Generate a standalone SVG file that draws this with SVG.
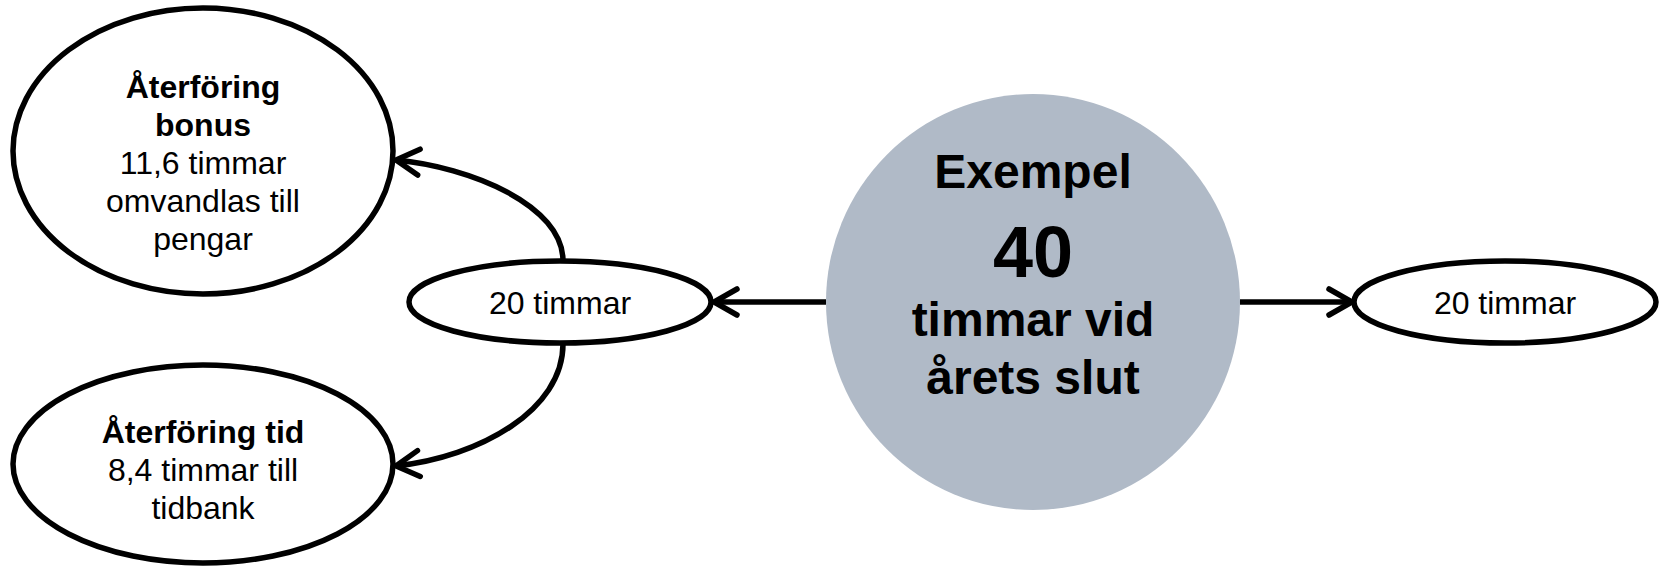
<svg xmlns="http://www.w3.org/2000/svg" width="1659" height="566" viewBox="0 0 1659 566">
<style>
.node{fill:#ffffff;stroke:#000000;stroke-width:5.5}
.hub{fill:#B0BAC7;stroke:none}
.t{font-family:"Liberation Sans",Arial,sans-serif;font-size:32px;fill:#000000;text-anchor:middle}
.b{font-weight:bold}
.big{font-family:"Liberation Sans",Arial,sans-serif;font-weight:bold;fill:#000000;text-anchor:middle}
.edge{fill:none;stroke:#000000;stroke-width:5.5;marker-end:url(#arr)}
</style>
<defs>
<marker id="arr" markerUnits="userSpaceOnUse" markerWidth="40" markerHeight="40" refX="26" refY="16" orient="auto" style="overflow:visible">
<path d="M 3 3 L 26 16 L 3 29" fill="none" stroke="#000000" stroke-width="5.5" stroke-linecap="round" stroke-linejoin="miter"/>
</marker>
</defs>
<g id="connectors">
<path class="edge" d="M 826 302 L 714 302"/>
<path class="edge" d="M 1240 302 L 1352 302"/>
<path class="edge" d="M 563 261 C 563 205 470 167 396 160"/>
<path class="edge" d="M 563 344 C 563 410 480 457 396 466"/>
</g>
<g id="n-bonus">
<ellipse class="node" cx="203" cy="151" rx="190" ry="143"/>
<text class="t b" x="203" y="98">Återföring</text>
<text class="t b" x="203" y="136">bonus</text>
<text class="t" x="203" y="174">11,6 timmar</text>
<text class="t" x="203" y="212">omvandlas till</text>
<text class="t" x="203" y="250">pengar</text>
</g>
<g id="n-tid">
<ellipse class="node" cx="203" cy="464" rx="190" ry="99"/>
<text class="t b" x="203" y="443">Återföring tid</text>
<text class="t" x="203" y="481">8,4 timmar till</text>
<text class="t" x="203" y="519">tidbank</text>
</g>
<g id="n-left20">
<ellipse class="node" cx="560" cy="302" rx="151" ry="41"/>
<text class="t" x="560" y="314">20 timmar</text>
</g>
<g id="n-hub">
<ellipse class="hub" cx="1033" cy="302" rx="207" ry="208"/>
<text class="big" x="1033" y="188" font-size="48">Exempel</text>
<text class="big" x="1033" y="277" font-size="72">40</text>
<text class="big" x="1033" y="336" font-size="48">timmar vid</text>
<text class="big" x="1033" y="394" font-size="48">årets slut</text>
</g>
<g id="n-right20">
<ellipse class="node" cx="1505" cy="302" rx="151" ry="41"/>
<text class="t" x="1505" y="314">20 timmar</text>
</g>
</svg>
